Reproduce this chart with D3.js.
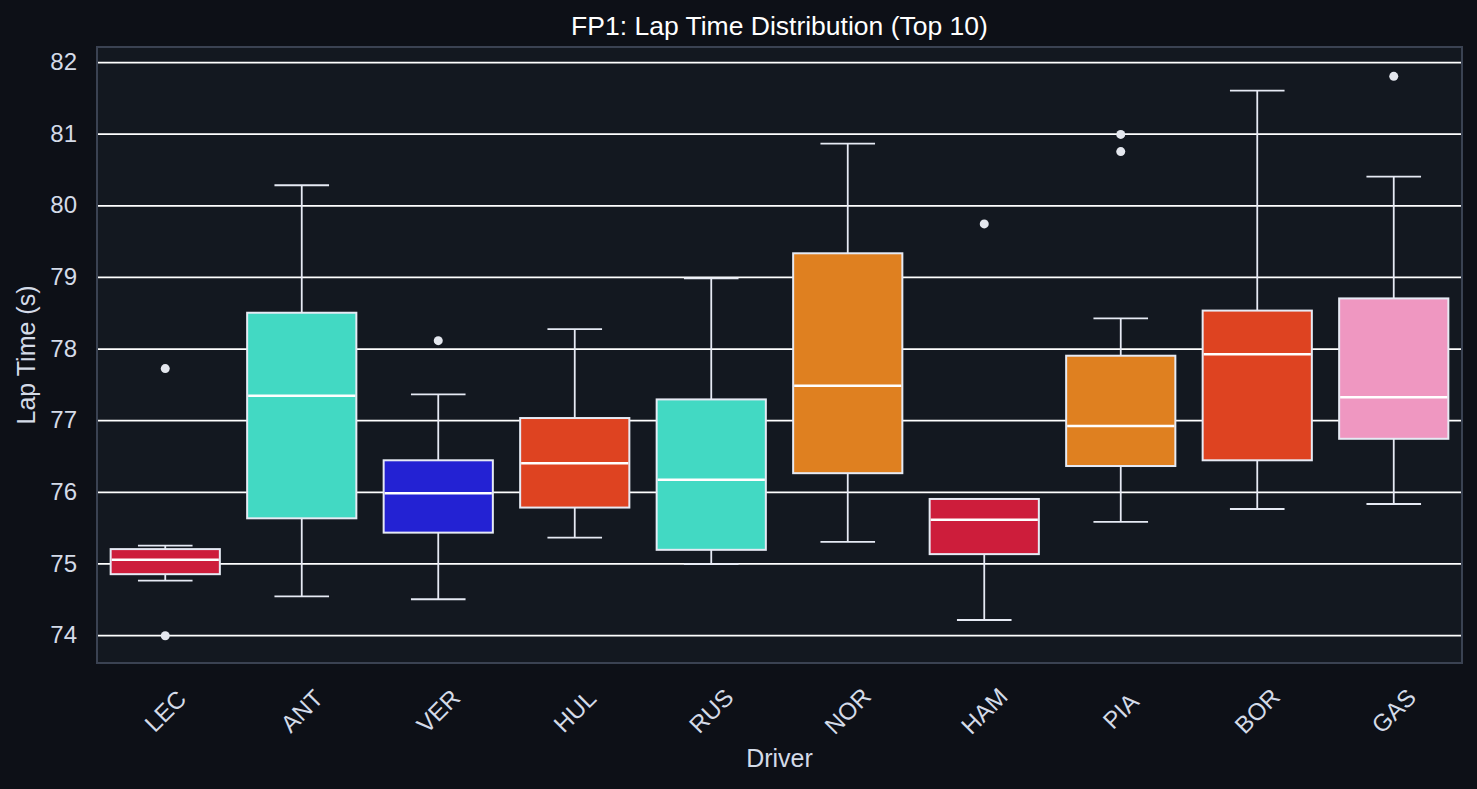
<!DOCTYPE html>
<html>
<head>
<meta charset="utf-8">
<script src="https://cdn.jsdelivr.net/npm/d3@7"></script>
<style>
  html, body { margin: 0; padding: 0; background: #0d1017; }
  svg { display: block; font-family: "Liberation Sans", Arial, sans-serif; }
</style>
</head>
<body>
<svg></svg>
<script>
const w = 1477
const h = 789

// drivers + box stats
const drivers   = ['LEC', 'ANT', 'VER', 'HUL', 'RUS', 'NOR', 'HAM', 'PIA', 'BOR', 'GAS']
const colors    = ['#cd1d3b', '#42d9c3', '#2322d3', '#de4321', '#42d9c3', '#df8020', '#cd1d3b', '#df8020', '#de4321', '#ef97c1']
const whiskLow  = [74.76, 74.54, 74.50, 75.36, 74.99, 75.30, 74.21, 75.58, 75.76, 75.83]
const q1        = [74.85, 75.63, 75.43, 75.78, 75.19, 76.26, 75.13, 76.36, 76.44, 76.74]
const medians   = [75.05, 77.34, 75.98, 76.40, 76.17, 77.48, 75.61, 76.92, 77.92, 77.32]
const q3        = [75.20, 78.50, 76.44, 77.03, 77.29, 79.33, 75.90, 77.90, 78.53, 78.70]
const whiskHigh = [75.25, 80.28, 77.36, 78.27, 78.98, 80.86, 75.90, 78.42, 81.60, 80.40]
const outliers  = [[77.72, 73.99], [], [78.11], [], [], [], [79.74], [80.99, 80.75], [], [81.80]]
const yTicks    = [74, 75, 76, 77, 78, 79, 80, 81, 82]

const data = drivers.map((d, i) => ({
  driver: d, color: colors[i], lo: whiskLow[i], q1: q1[i], med: medians[i],
  q3: q3[i], hi: whiskHigh[i], out: outliers[i]
}))

const svg = d3.select('svg')
  .attr('width', w)
  .attr('height', h)

svg.append('rect').attr('width', w).attr('height', h).attr('fill', '#0d1017')

const margin = {top: 47, right: 15, bottom: 126, left: 97}
const innerWidth = w - margin.left - margin.right
const innerHeight = h - margin.top - margin.bottom

const xScale = d3.scaleBand()
  .domain(drivers)
  .range([0, innerWidth])
  .paddingInner(0.2)
  .paddingOuter(0.1)

const yScale = d3.scaleLinear()
  .domain([73.61, 82.21])
  .range([innerHeight, 0])

const g = svg.append('g')
  .attr('transform', `translate(${margin.left}, ${margin.top})`)

g.append('rect')
  .attr('width', innerWidth)
  .attr('height', innerHeight)
  .attr('fill', '#131820')

// grid
const yAxis = d3.axisLeft(yScale)
  .tickValues(yTicks)
  .tickSize(-innerWidth)
  .tickPadding(20)
  .tickFormat(d3.format('d'))

const yAxisG = g.append('g').call(yAxis)
yAxisG.select('.domain').remove()
yAxisG.selectAll('.tick line')
  .attr('stroke', '#ffffff')
  .attr('stroke-width', 1.8)
yAxisG.selectAll('.tick text')
  .attr('fill', '#d4dbe8')
  .attr('font-size', '24px')
  .attr('font-family', '"Liberation Sans", Arial, sans-serif')

const edge = '#e6eaf4'
const bw = xScale.bandwidth()
const capW = bw / 2

const boxes = g.selectAll('.box').data(data)
  .enter().append('g')
  .attr('class', 'box')
  .attr('transform', d => `translate(${xScale(d.driver)}, 0)`)

// whiskers
boxes.append('line')
  .attr('x1', bw / 2).attr('x2', bw / 2)
  .attr('y1', d => yScale(d.hi)).attr('y2', d => yScale(d.q3))
  .attr('stroke', edge).attr('stroke-width', 1.8)
boxes.append('line')
  .attr('x1', bw / 2).attr('x2', bw / 2)
  .attr('y1', d => yScale(d.q1)).attr('y2', d => yScale(d.lo))
  .attr('stroke', edge).attr('stroke-width', 1.8)
boxes.append('line')
  .attr('x1', bw / 2 - capW / 2).attr('x2', bw / 2 + capW / 2)
  .attr('y1', d => yScale(d.hi)).attr('y2', d => yScale(d.hi))
  .attr('stroke', edge).attr('stroke-width', 1.8)
boxes.append('line')
  .attr('x1', bw / 2 - capW / 2).attr('x2', bw / 2 + capW / 2)
  .attr('y1', d => yScale(d.lo)).attr('y2', d => yScale(d.lo))
  .attr('stroke', edge).attr('stroke-width', 1.8)

boxes.append('rect')
  .attr('x', 0)
  .attr('width', bw)
  .attr('y', d => yScale(d.q3))
  .attr('height', d => yScale(d.q1) - yScale(d.q3))
  .attr('fill', d => d.color)
  .attr('stroke', edge)
  .attr('stroke-width', 2)

boxes.append('line')
  .attr('x1', 1).attr('x2', bw - 1)
  .attr('y1', d => yScale(d.med)).attr('y2', d => yScale(d.med))
  .attr('stroke', '#ffffff').attr('stroke-width', 2.5)

boxes.selectAll('circle').data(d => d.out)
  .enter().append('circle')
  .attr('cx', bw / 2)
  .attr('cy', d => yScale(d))
  .attr('r', 4.5)
  .attr('fill', '#e4e7ee')

// frame
g.append('rect')
  .attr('width', innerWidth)
  .attr('height', innerHeight)
  .attr('fill', 'none')
  .attr('stroke', '#3a4252')
  .attr('stroke-width', 2)

// x labels, rotated 45
g.append('g')
  .selectAll('text').data(drivers)
  .enter().append('text')
  .attr('transform', d => `translate(${xScale(d) + bw / 2}, ${innerHeight + 48}) rotate(-45)`)
  .attr('text-anchor', 'middle')
  .attr('dy', '0.35em')
  .attr('fill', '#d4dbe8')
  .attr('font-size', '24px')
  .text(d => d)

g.append('text')
  .attr('x', innerWidth / 2)
  .attr('y', innerHeight + 104)
  .attr('text-anchor', 'middle')
  .attr('fill', '#d4dbe8')
  .attr('font-size', '25px')
  .text('Driver')

g.append('text')
  .attr('transform', `translate(-62, ${innerHeight / 2}) rotate(-90)`)
  .attr('text-anchor', 'middle')
  .attr('fill', '#d4dbe8')
  .attr('font-size', '25px')
  .text('Lap Time (s)')

svg.append('text')
  .attr('x', margin.left + innerWidth / 2)
  .attr('y', 35)
  .attr('text-anchor', 'middle')
  .attr('fill', '#ffffff')
  .attr('font-size', '26.5px')
  .text('FP1: Lap Time Distribution (Top 10)')
</script>
</body>
</html>
